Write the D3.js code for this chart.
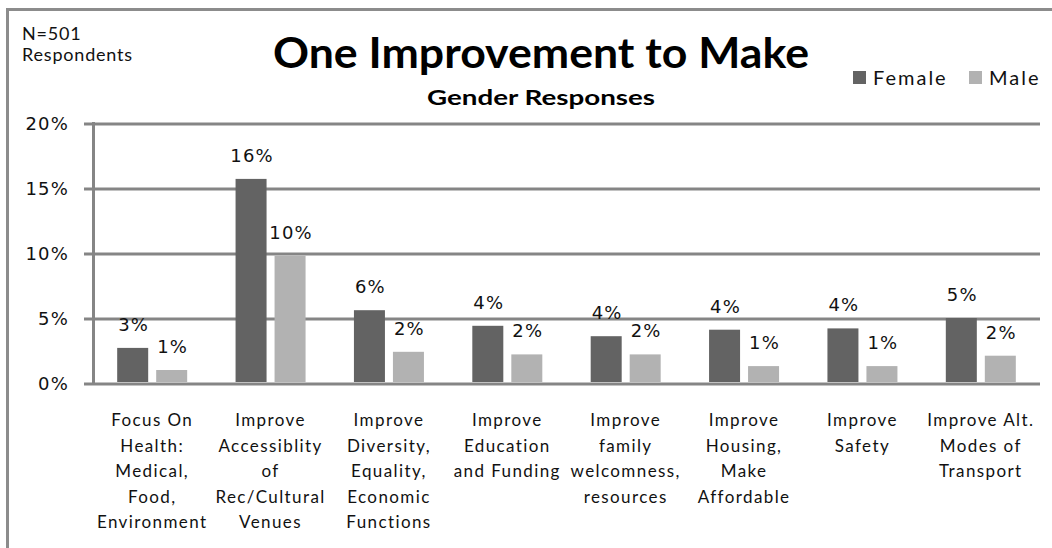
<!DOCTYPE html>
<html>
<head>
<meta charset="utf-8">
<script src="https://cdn.jsdelivr.net/npm/d3@7"></script>
<style>
  html, body { margin: 0; padding: 0; background: #fff; }
  svg { display: block; }
</style>
</head>
<body>
<svg id="chart" width="1052" height="548"></svg>
<script>
// ---- data ----
const categories = [
  ["Focus On", "Health:", "Medical,", "Food,", "Environment"],
  ["Improve", "Accessiblity", "of", "Rec/Cultural", "Venues"],
  ["Improve", "Diversity,", "Equality,", "Economic", "Functions"],
  ["Improve", "Education", "and Funding"],
  ["Improve", "family", "welcomness,", "resources"],
  ["Improve", "Housing,", "Make", "Affordable"],
  ["Improve", "Safety"],
  ["Improve Alt.", "Modes of", "Transport"]
];
const seriesNames = ["Female", "Male"];
const female = [2.7, 15.7, 5.6, 4.4, 3.6, 4.1, 4.2, 5.0];
const male   = [1.0, 9.8, 2.4, 2.2, 2.2, 1.3, 1.3, 2.1];
const yTicks = [0, 5, 10, 15, 20];
const titleText = "One Improvement to Make";
const subtitleText = "Gender Responses";
const noteLines = ["N=501", "Respondents"];

// ---- layout ----
const svg = d3.select("#chart");
const plot = { left: 93, right: 1040, top: 123, bottom: 383 };
const colors = { Female: "#636363", Male: "#b2b2b2" };
const gridColor = "#858585";

// outer border (only top & left visible)
svg.append("rect").attr("x", 7.5).attr("y", 9.5).attr("width", 1100).attr("height", 600)
  .attr("fill", "none").attr("stroke", "#8c8c8c").attr("stroke-width", 3);

const ids = categories.map((d, i) => i);
const x = d3.scaleBand().domain(ids).range([plot.left, plot.right]).paddingInner(0).paddingOuter(0);
const xs = d3.scaleBand().domain(seriesNames).range([-35, 35]).paddingInner(8 / 39).paddingOuter(0);
const y = d3.scaleLinear().domain([0, 20]).range([plot.bottom, plot.top]);

// grid + y axis
const yAxis = d3.axisLeft(y).tickValues(yTicks).tickSize(-(plot.right - plot.left)).tickFormat(d => d + "%").tickPadding(0);
const gy = svg.append("g").attr("transform", `translate(${plot.left},0.5)`).call(yAxis);
gy.select(".domain").remove();
gy.selectAll(".tick line").attr("stroke", gridColor).attr("stroke-width", 3).attr("x1", -9);
gy.selectAll(".tick text")
  .attr("x", -24).attr("dy", "0.36em")
  .attr("font-family", "DejaVu Sans").attr("font-size", 18).attr("letter-spacing", 1.2)
  .attr("fill", "#111");
// axis line
svg.append("line").attr("x1", plot.left + 0.5).attr("x2", plot.left + 0.5)
  .attr("y1", plot.top - 1).attr("y2", plot.bottom + 2)
  .attr("stroke", gridColor).attr("stroke-width", 3);

// bars
const rows = ids.map(i => ({ i, vals: [{ s: "Female", v: female[i] }, { s: "Male", v: male[i] }] }));
const groups = svg.append("g").selectAll("g").data(rows).join("g")
  .attr("transform", d => `translate(${x(d.i) + x.bandwidth() / 2},0)`);
groups.selectAll("rect").data(d => d.vals).join("rect")
  .attr("x", d => xs(d.s)).attr("width", xs.bandwidth())
  .attr("y", d => y(d.v)).attr("height", d => y(0) - y(d.v) - 1)
  .attr("fill", d => colors[d.s]);
const fmt = d3.format(".0f");
groups.selectAll("text.val").data(d => d.vals).join("text").attr("class", "val")
  .attr("x", d => xs(d.s) + xs.bandwidth() / 2 + 1).attr("y", d => y(d.v) - 17)
  .attr("text-anchor", "middle")
  .attr("font-family", "DejaVu Sans").attr("font-size", 18).attr("letter-spacing", 1.2)
  .attr("fill", "#111")
  .text(d => fmt(d.v) + "%");

// x labels
const xl = svg.append("g").selectAll("text").data(rows).join("text")
  .attr("x", d => x(d.i) + x.bandwidth() / 2)
  .attr("y", 426)
  .attr("text-anchor", "middle")
  .attr("font-family", "Lato").attr("font-size", 17).attr("letter-spacing", 1.4)
  .attr("fill", "#111");
xl.selectAll("tspan").data(d => categories[d.i]).join("tspan")
  .attr("x", function() { return d3.select(this.parentNode).attr("x"); })
  .attr("dy", (d, k) => k === 0 ? 0 : 25.5)
  .text(d => d);

// title & subtitle
svg.append("text").attr("x", 541).attr("y", 68).attr("text-anchor", "middle")
  .attr("font-family", "Lato").attr("font-weight", "bold").attr("font-size", 42)
  .attr("textLength", 536).attr("lengthAdjust", "spacingAndGlyphs")
  .attr("fill", "#000").text(titleText);
svg.append("text").attr("x", 541).attr("y", 105).attr("text-anchor", "middle")
  .attr("font-family", "Lato").attr("font-weight", "bold").attr("font-size", 20)
  .attr("textLength", 228).attr("lengthAdjust", "spacingAndGlyphs")
  .attr("fill", "#000").text(subtitleText);

// note
svg.append("g").selectAll("text").data(noteLines).join("text")
  .attr("x", 22).attr("y", (d, i) => 40 + i * 21)
  .attr("font-family", "Lato").attr("font-size", 18).attr("letter-spacing", 0.8)
  .attr("fill", "#111").text(d => d);

// legend
const legendPos = [{ s: "Female", x: 853 }, { s: "Male", x: 969 }];
const lg = svg.append("g").selectAll("g").data(legendPos).join("g")
  .attr("transform", d => `translate(${d.x},71)`);
lg.append("rect").attr("width", 13).attr("height", 13).attr("fill", d => colors[d.s]);
lg.append("text").attr("x", 20).attr("y", 14)
  .attr("font-family", "Lato").attr("font-size", 20).attr("letter-spacing", 2)
  .attr("fill", "#111").text(d => d.s);
</script>
</body>
</html>
